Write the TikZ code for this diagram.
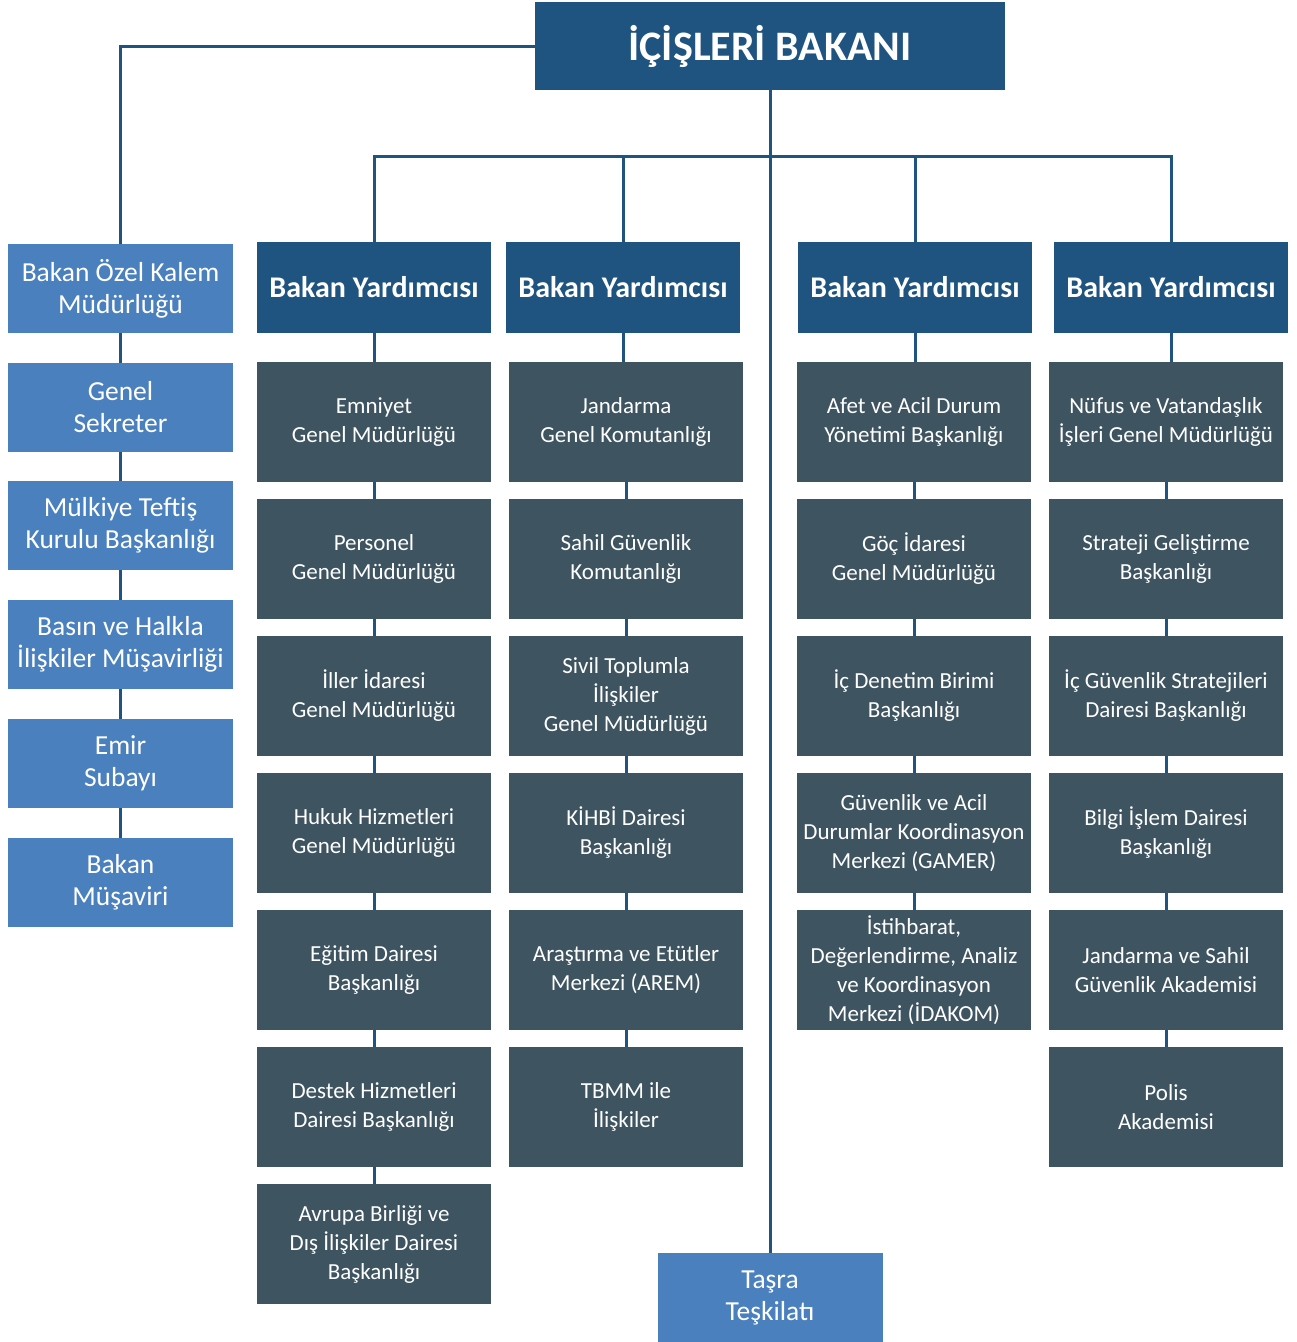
\documentclass[tikz,border=0pt]{standalone}
\usepackage{fontspec}
\setmainfont{Carlito}
\usetikzlibrary{positioning}
\definecolor{koyumavi}{HTML}{1F5480}
\definecolor{acikmavi}{HTML}{4A80BE}
\definecolor{gri}{HTML}{3E5461}
\begin{document}
\begin{tikzpicture}[x=1pt,y=-1pt,
    baglanti/.style={koyumavi, line width=3pt},
    bakan/.style={fill=koyumavi, text=white, minimum width=470pt, minimum height=88pt, inner sep=0pt, font=\bfseries\fontsize{42}{46}\selectfont},
    yardimci/.style={fill=koyumavi, text=white, minimum width=234pt, minimum height=91pt, inner sep=0pt, font=\bfseries\fontsize{30}{34}\selectfont},
    ozel/.style={fill=acikmavi, text=white, minimum width=225pt, minimum height=89pt, inner sep=0pt, align=center, font=\fontsize{27.5}{32}\selectfont},
    birim/.style={fill=gri, text=white, minimum width=234pt, minimum height=120pt, inner sep=0pt, align=center, font=\fontsize{23}{29}\selectfont}]
        \useasboundingbox (0,0) rectangle (1297,1342);

        % bakan
        \node[bakan] (bakan) at (770,46) {İÇİŞLERİ BAKANI};

        % sol sutun
        \node[ozel] (s1) at (120.5,288.5) {Bakan Özel Kalem\\Müdürlüğü};
        \node[ozel] (s2) at (120.5,407.5) {Genel\\Sekreter};
        \node[ozel] (s3) at (120.5,525.5) {Mülkiye Teftiş\\Kurulu Başkanlığı};
        \node[ozel] (s4) at (120.5,644.5) {Basın ve Halkla\\İlişkiler Müşavirliği};
        \node[ozel] (s5) at (120.5,763.5) {Emir\\Subayı};
        \node[ozel] (s6) at (120.5,882.5) {Bakan\\Müşaviri};
        \node[ozel] (tasra) at (770,1297.5) {Taşra\\Teşkilatı};

        % bakan yardimcilari
        \node[yardimci] (y1) at (374,287.5) {Bakan Yardımcısı};
        \node[yardimci] (y2) at (623,287.5) {Bakan Yardımcısı};
        \node[yardimci] (y3) at (915,287.5) {Bakan Yardımcısı};
        \node[yardimci] (y4) at (1171,287.5) {Bakan Yardımcısı};

        % birinci sutun
        \node[birim] (a1) at (374,422) {Emniyet\\Genel Müdürlüğü};
        \node[birim] (a2) at (374,559) {Personel\\Genel Müdürlüğü};
        \node[birim] (a3) at (374,696) {İller İdaresi\\Genel Müdürlüğü};
        \node[birim] (a4) at (374,833) {Hukuk Hizmetleri\\Genel Müdürlüğü};
        \node[birim] (a5) at (374,970) {Eğitim Dairesi\\Başkanlığı};
        \node[birim] (a6) at (374,1107) {Destek Hizmetleri\\Dairesi Başkanlığı};
        \node[birim] (a7) at (374,1244) {Avrupa Birliği ve\\Dış İlişkiler Dairesi\\Başkanlığı};

        % ikinci sutun
        \node[birim] (b1) at (626,422) {Jandarma\\Genel Komutanlığı};
        \node[birim] (b2) at (626,559) {Sahil Güvenlik\\Komutanlığı};
        \node[birim] (b3) at (626,696) {Sivil Toplumla\\İlişkiler\\Genel Müdürlüğü};
        \node[birim] (b4) at (626,833) {KİHBİ Dairesi\\Başkanlığı};
        \node[birim] (b5) at (626,970) {Araştırma ve Etütler\\Merkezi (AREM)};
        \node[birim] (b6) at (626,1107) {TBMM ile\\İlişkiler};

        % ucuncu sutun
        \node[birim] (c1) at (914,422) {Afet ve Acil Durum\\Yönetimi Başkanlığı};
        \node[birim] (c2) at (914,559) {Göç İdaresi\\Genel Müdürlüğü};
        \node[birim] (c3) at (914,696) {İç Denetim Birimi\\Başkanlığı};
        \node[birim] (c4) at (914,833) {Güvenlik ve Acil\\Durumlar Koordinasyon\\Merkezi (GAMER)};
        \node[birim] (c5) at (914,970) {İstihbarat,\\Değerlendirme, Analiz\\ve Koordinasyon\\Merkezi (İDAKOM)};

        % dorduncu sutun
        \node[birim] (d1) at (1166,422) {Nüfus ve Vatandaşlık\\İşleri Genel Müdürlüğü};
        \node[birim] (d2) at (1166,559) {Strateji Geliştirme\\Başkanlığı};
        \node[birim] (d3) at (1166,696) {İç Güvenlik Stratejileri\\Dairesi Başkanlığı};
        \node[birim] (d4) at (1166,833) {Bilgi İşlem Dairesi\\Başkanlığı};
        \node[birim] (d5) at (1166,970) {Jandarma ve Sahil\\Güvenlik Akademisi};
        \node[birim] (d6) at (1166,1107) {Polis\\Akademisi};

        % baglantilar
        \coordinate (hat) at (770,156);
        \draw[baglanti] (bakan.west) -| (s1.north);
        \draw[baglanti] (bakan.south) -- (tasra.north);
        \draw[baglanti] (y1.north) |- (hat) -| (y4.north);
        \draw[baglanti] (hat) -| (y2.north);
        \draw[baglanti] (hat) -| (y3.north);
        \foreach \u/\v in {s1/s2,s2/s3,s3/s4,s4/s5,s5/s6,
                y1/a1,a1/a2,a2/a3,a3/a4,a4/a5,a5/a6,a6/a7,
                y2/b1,b1/b2,b2/b3,b3/b4,b4/b5,b5/b6,
                y3/c1,c1/c2,c2/c3,c3/c4,c4/c5,
                y4/d1,d1/d2,d2/d3,d3/d4,d4/d5,d5/d6}
            \draw[baglanti] (\u.south) -- (\u.south |- \v.north);
    \end{tikzpicture}
\end{document}
